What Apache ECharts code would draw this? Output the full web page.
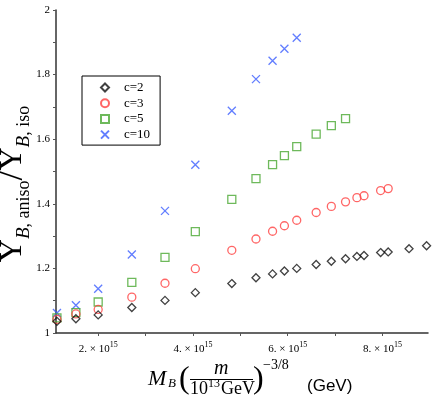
<!DOCTYPE html>
<html>
<head>
<meta charset="utf-8">
<script src="https://cdn.jsdelivr.net/npm/echarts@6/dist/echarts.min.js"></script>
<style>html,body{margin:0;padding:0;background:#fff;}#c{width:436px;height:396px;}</style>
</head>
<body>
<div id="c"></div>
<script>
// x values in units of 10^15 GeV
const xC2 = [1.13,1.53,2.0,2.71,3.41,4.05,4.82,5.33,5.68,5.93,6.19,6.6,6.92,7.22,7.46,7.61,7.96,8.12,8.56,8.93];
const yC2 = [1.036,1.044,1.056,1.079,1.101,1.125,1.153,1.171,1.183,1.192,1.200,1.212,1.222,1.230,1.237,1.240,1.249,1.251,1.261,1.270];
const xC3 = [1.13,1.53,2.0,2.71,3.41,4.05,4.82,5.33,5.68,5.93,6.19,6.6,6.92,7.22,7.46,7.61,7.96,8.12];
const yC3 = [1.042,1.059,1.073,1.111,1.154,1.199,1.256,1.291,1.315,1.332,1.349,1.373,1.392,1.406,1.419,1.425,1.441,1.447];
const xC5 = [1.13,1.53,2.0,2.71,3.41,4.05,4.82,5.33,5.68,5.93,6.19,6.6,6.92,7.22];
const yC5 = [1.047,1.063,1.096,1.157,1.234,1.314,1.414,1.478,1.521,1.549,1.577,1.616,1.642,1.664];
const xC10 = [1.13,1.53,2.0,2.71,3.41,4.05,4.82,5.33,5.68,5.93,6.19];
const yC10 = [1.062,1.086,1.137,1.243,1.378,1.521,1.688,1.786,1.843,1.880,1.914];
const seriesNames = ['c=2','c=3','c=5','c=10'];
const xLabelValues = [2,4,6,8];
const xTickValues = [2,3,4,5,6,7,8];
const yLabelValues = [1,1.2,1.4,1.6,1.8,2];
const yTickValues = [1,1.1,1.2,1.3,1.4,1.5,1.6,1.7,1.8,1.9,2];

const serif = '"Liberation Serif", "DejaVu Serif", serif';
const pair = (xs, ys) => xs.map((x, i) => [x, ys[i]]);
const crossPath = 'path://M0,0L10,10M0,10L10,0';

function mk(name, data, symbol, color, size, z) {
  return {
    name, type: 'scatter', data, symbol, symbolSize: size, z,
    itemStyle: { color: 'rgba(0,0,0,0)', borderColor: color, borderWidth: 1.3 },
    emphasis: { disabled: true }
  };
}

const chart = echarts.init(document.getElementById('c'));
const T = (text, x, y, font, extra) => Object.assign({
  type: 'text', x: 0, y: 0,
  style: { text, x, y, font, fill: '#000', align: 'left', verticalAlign: 'middle' }
}, extra || {});

chart.setOption({
  animation: false,
  backgroundColor: '#fff',
  grid: { left: 56, right: 8, top: 10, bottom: 63 },
  legend: {
    data: seriesNames, orient: 'vertical', left: 82, top: 76,
    padding: [5, 10, 4, 18], itemGap: 2.7, itemWidth: 8, itemHeight: 8,
    borderColor: '#000', borderWidth: 1, backgroundColor: '#fff',
    textStyle: { fontFamily: serif, fontSize: 13, color: '#000', padding: [0, 0, 0, 10] },
    selectedMode: false
  },
  xAxis: {
    type: 'value', min: 1.11, max: 8.96,
    axisLine: { show: true, lineStyle: { color: '#333', width: 1.5 } },
    axisTick: { show: true, customValues: xTickValues, length: 3, lineStyle: { color: '#555' } },
    axisLabel: {
      customValues: xLabelValues, margin: 8,
      formatter: v => '{a|' + v + '. × 10}{b|15}',
      rich: {
        a: { fontFamily: serif, fontSize: 11, color: '#000', lineHeight: 16 },
        b: { fontFamily: serif, fontSize: 8, color: '#000', lineHeight: 9, verticalAlign: 'top' }
      }
    },
    splitLine: { show: false }
  },
  yAxis: {
    type: 'value', min: 1, max: 2,
    axisLine: { show: true, lineStyle: { color: '#333', width: 1.5 } },
    axisTick: { show: true, customValues: yTickValues, length: 3, lineStyle: { color: '#555' } },
    axisLabel: {
      customValues: yLabelValues, margin: 6,
      fontFamily: serif, fontSize: 11, color: '#000',
      formatter: v => String(Math.round(v * 10) / 10)
    },
    splitLine: { show: false }
  },
  series: [
    mk('c=2', pair(xC2, yC2), 'diamond', '#111', 8, 5),
    mk('c=3', pair(xC3, yC3), 'circle', '#ff4040', 8, 4),
    mk('c=5', pair(xC5, yC5), 'rect', '#4aa832', 8, 3),
    mk('c=10', pair(xC10, yC10), crossPath, '#3a5cff', 8, 2)
  ],
  graphic: [
    {
      type: 'text', x: 13, y: 184, rotation: Math.PI / 2,
      style: {
        text: '{Y|Y}{B|B}{s|, aniso}{sl|/}{Y|Y}{B|B}{s|, iso}',
        align: 'center', verticalAlign: 'middle', fill: '#000',
        rich: {
          Y: { fontFamily: serif, fontSize: 32, lineHeight: 40, verticalAlign: 'middle' },
          B: { fontFamily: serif, fontStyle: 'italic', fontSize: 19, lineHeight: 31, verticalAlign: 'bottom' },
          s: { fontFamily: serif, fontSize: 18, lineHeight: 31, verticalAlign: 'bottom' },
          sl: { fontFamily: serif, fontSize: 36, lineHeight: 40, verticalAlign: 'middle' }
        }
      }
    },
    T('M', 148, 379, 'italic 22px ' + serif),
    T('B', 168, 384, 'italic 13px ' + serif),
    T('(', 179, 380, '32px ' + serif),
    T('m', 214, 369, 'italic 20px ' + serif),
    { type: 'line', shape: { x1: 190, y1: 379.5, x2: 253, y2: 379.5 }, style: { stroke: '#000', lineWidth: 1 } },
    T('10', 190, 389, '18px ' + serif),
    T('13', 208, 384, '12px ' + serif),
    T('GeV', 221, 389, '18px ' + serif),
    T(')', 253, 380, '32px ' + serif),
    T('\u22123/8', 263, 365, '14px ' + serif),
    T('(GeV)', 307, 386, '17px "Liberation Sans", Arial, sans-serif')
  ]
});
</script>
</body>
</html>
